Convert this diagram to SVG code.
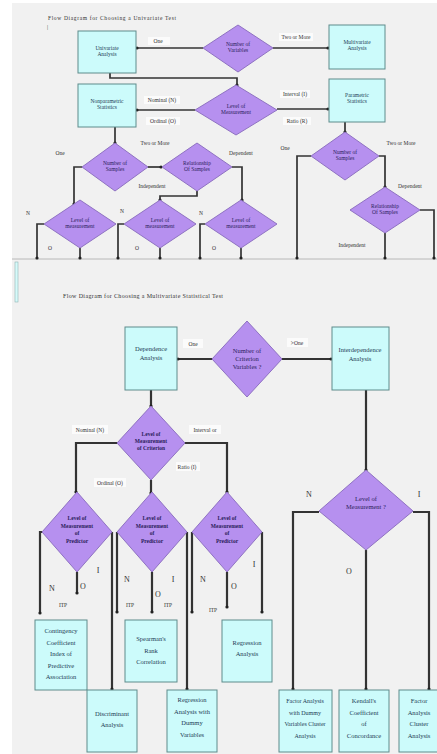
<svg xmlns="http://www.w3.org/2000/svg" width="437" height="754" viewBox="0 0 437 754">
<defs>
<style>
.box{fill:#ccfbfb;stroke:#5f8c8c;stroke-width:1}
.dia{fill:#b690ef;stroke:#8f72c2;stroke-width:1}
.ln{stroke:#333;stroke-width:1.7;fill:none;marker-end:url(#dot)}
.ln2{stroke:#333;stroke-width:2.2;fill:none;marker-end:url(#dot)}
.bt{font-family:"Liberation Serif",serif;font-size:5.5px;fill:#1d3b55;text-anchor:middle}
.bt2{font-family:"Liberation Serif",serif;font-size:6.5px;fill:#1d3b55;text-anchor:middle}
.dt{font-family:"Liberation Serif",serif;font-size:5.5px;fill:#2b1d5c;text-anchor:middle}
.dt2{font-family:"Liberation Serif",serif;font-size:5.5px;fill:#2b1d5c;text-anchor:middle;font-weight:bold}
.lb{font-family:"Liberation Serif",serif;font-size:5.5px;fill:#333;text-anchor:middle}
.lb2{font-family:"Liberation Serif",serif;font-size:8px;fill:#333;text-anchor:middle}
.lbg{fill:#fbfbfb}
</style>
<marker id="dot" viewBox="0 0 4 4" refX="2" refY="2" markerWidth="4" markerHeight="4" markerUnits="userSpaceOnUse"><circle cx="2" cy="2" r="1.6" fill="#222"/></marker>
</defs>
<rect width="437" height="754" fill="#ffffff"/>
<rect x="12" y="3" width="425" height="751" fill="#f1f1f1"/>
<line x1="12" y1="259" x2="437" y2="259" stroke="#b8b8b8" stroke-width="1"/>
<rect x="15" y="262" width="3" height="40" fill="#d6fafa" stroke="#8fb4b4" stroke-width="0.6"/>

<text x="48" y="20" font-family="Liberation Serif,serif" font-size="5.5" fill="#333" textLength="128">Flow Diagram for Choosing a Univariate Test</text>
<text x="47" y="29" font-family="Liberation Serif,serif" font-size="5.5" fill="#333">|</text>
<text x="63" y="298" font-family="Liberation Serif,serif" font-size="6" fill="#333" textLength="160">Flow Diagram for Choosing a Multivariate Statistical Test</text>

<g id="connectors">
<path class="ln" d="M203,48 H137"/>
<path class="ln" d="M273,48 H328"/>
<path class="ln" d="M110,73 V78 H237 V85"/>
<path class="ln" d="M195,110 H137"/>
<path class="ln" d="M277,109 H328"/>
<path class="ln" d="M115,127 V143"/>
<path class="ln" d="M148,167 H161"/>
<path class="ln" d="M82,167 H74 V204"/>
<path class="ln" d="M232,167 H242 V200"/>
<path class="ln" d="M197,191 V196 H160 V200"/>
<path class="ln" d="M44,224 H37 V258"/>
<path class="ln" d="M80,248 V258"/>
<path class="ln" d="M124,224 H118 V258"/>
<path class="ln" d="M160,248 V258"/>
<path class="ln" d="M205,224 H200 V258"/>
<path class="ln" d="M241,248 V258"/>
<path class="ln" d="M345,122 V132"/>
<path class="ln" d="M311,156 H297 V258"/>
<path class="ln" d="M379,156 H385 V187"/>
<path class="ln" d="M420,210 H434 V258"/>
<path class="ln" d="M385,233 V258"/>

<path class="ln2" d="M212,359 H178"/>
<path class="ln2" d="M282,359 H331"/>
<path class="ln2" d="M151,390 V406"/>
<path class="ln2" d="M117,443 H76 V492"/>
<path class="ln2" d="M185,443 H227 V492"/>
<path class="ln2" d="M151,480 V493"/>
<path class="ln2" d="M42,532 H40 V613"/>
<path class="ln2" d="M77,572 V593"/>
<path class="ln2" d="M112,532 V689"/>
<path class="ln2" d="M117,532 V612"/>
<path class="ln2" d="M152,572 V612"/>
<path class="ln2" d="M187,532 V689"/>
<path class="ln2" d="M192,532 V612"/>
<path class="ln2" d="M227,572 V607"/>
<path class="ln2" d="M262,532 V612"/>
<path class="ln2" d="M366,390 V470"/>
<path class="ln2" d="M319,512 H293 V689"/>
<path class="ln2" d="M413,512 H429 V689"/>
<path class="ln2" d="M366,550 V689"/>
</g>

<g id="labels">
<rect class="lbg" x="148" y="37" width="22" height="8"/><text class="lb" x="158" y="43">One</text>
<rect class="lbg" x="279" y="33" width="34" height="8"/><text class="lb" x="296" y="39">Two or More</text>
<rect class="lbg" x="144" y="96" width="36" height="8"/><text class="lb" x="162" y="102">Nominal (N)</text>
<rect class="lbg" x="146" y="117" width="34" height="8"/><text class="lb" x="163" y="123">Ordinal (O)</text>
<rect class="lbg" x="280" y="90" width="30" height="8"/><text class="lb" x="295" y="96">Interval (I)</text>
<rect class="lbg" x="283" y="117" width="28" height="8"/><text class="lb" x="297" y="123">Ratio (R)</text>
<text class="lb" x="60" y="155">One</text>
<text class="lb" x="155" y="145">Two or More</text>
<text class="lb" x="241" y="155">Dependent</text>
<text class="lb" x="152" y="188">Independent</text>
<text class="lb" x="285" y="150">One</text>
<text class="lb" x="401" y="145">Two or More</text>
<text class="lb" x="410" y="188">Dependent</text>
<text class="lb" x="352" y="247">Independent</text>
<text class="lb" x="28" y="215">N</text>
<text class="lb" x="122" y="213">N</text>
<text class="lb" x="201" y="215">N</text>
<text class="lb" x="50" y="250">O</text>
<text class="lb" x="137" y="250">O</text>
<text class="lb" x="214" y="250">O</text>

<rect class="lbg" x="183" y="339" width="20" height="9"/><text class="lb" x="193" y="346">One</text>
<rect class="lbg" x="287" y="338" width="21" height="9"/><text class="lb" x="297" y="345">&gt;One</text>
<rect class="lbg" x="72" y="425" width="36" height="9"/><text class="lb" x="90" y="432">Nominal (N)</text>
<rect class="lbg" x="189" y="425" width="32" height="9"/><text class="lb" x="205" y="432">Interval or</text>
<rect class="lbg" x="176" y="462" width="24" height="9"/><text class="lb" x="187" y="469">Ratio (I)</text>
<rect class="lbg" x="94" y="478" width="32" height="9"/><text class="lb" x="110" y="485">Ordinal (O)</text>
<text class="lb2" x="52" y="591">N</text>
<text class="lb2" x="83" y="589">O</text>
<text class="lb2" x="98" y="573">I</text>
<text class="lb2" x="127" y="582">N</text>
<text class="lb2" x="173" y="582">I</text>
<text class="lb2" x="158" y="597">O</text>
<text class="lb2" x="203" y="582">N</text>
<text class="lb2" x="254" y="567">I</text>
<text class="lb2" x="234" y="589">O</text>
<text class="lb2" x="309" y="497">N</text>
<text class="lb2" x="419" y="497">I</text>
<text class="lb2" x="349" y="574">O</text>
<text class="lb" x="63" y="607">ITP</text>
<text class="lb" x="130" y="607">ITP</text>
<text class="lb" x="168" y="607">ITP</text>
<text class="lb" x="213" y="612">ITP</text>
</g>

<g id="n-univariate"><rect class="box" x="78" y="31" width="58" height="42"/><text class="bt" x="107" y="50"><tspan x="107">Univariate</tspan><tspan x="107" dy="6">Analysis</tspan></text></g>
<g id="n-numvars"><polygon class="dia" points="203,48 238,25 273,48 238,72"/><text class="dt" x="238" y="46"><tspan x="238">Number of</tspan><tspan x="238" dy="6">Variables</tspan></text></g>
<g id="n-multivariate"><rect class="box" x="329" y="25" width="56" height="44"/><text class="bt" x="357" y="44"><tspan x="357">Multivariate</tspan><tspan x="357" dy="6">Analysis</tspan></text></g>
<g id="n-levelmeas"><polygon class="dia" points="195,110 236,85 277,110 236,135"/><text class="dt" x="236" y="108"><tspan x="236">Level of</tspan><tspan x="236" dy="6">Measurement</tspan></text></g>
<g id="n-nonparam"><rect class="box" x="78" y="84" width="58" height="43"/><text class="bt" x="107" y="103"><tspan x="107">Nonparametric</tspan><tspan x="107" dy="6">Statistics</tspan></text></g>
<g id="n-param"><rect class="box" x="329" y="79" width="56" height="43"/><text class="bt" x="357" y="97"><tspan x="357">Parametric</tspan><tspan x="357" dy="6">Statistics</tspan></text></g>
<g id="n-numsamp1"><polygon class="dia" points="82,167 115,143 148,167 115,191"/><text class="dt" x="115" y="165"><tspan x="115">Number of</tspan><tspan x="115" dy="6">Samples</tspan></text></g>
<g id="n-relsamp1"><polygon class="dia" points="162,167 197,143 232,167 197,191"/><text class="dt" x="197" y="165"><tspan x="197">Relationship</tspan><tspan x="197" dy="6">Of Samples</tspan></text></g>
<g id="n-lm1"><polygon class="dia" points="44,224 80,200 116,224 80,248"/><text class="dt" x="80" y="222"><tspan x="80">Level of</tspan><tspan x="80" dy="6">measurement</tspan></text></g>
<g id="n-lm2"><polygon class="dia" points="124,224 160,200 196,224 160,248"/><text class="dt" x="160" y="222"><tspan x="160">Level of</tspan><tspan x="160" dy="6">measurement</tspan></text></g>
<g id="n-lm3"><polygon class="dia" points="205,224 241,200 277,224 241,248"/><text class="dt" x="241" y="222"><tspan x="241">Level of</tspan><tspan x="241" dy="6">measurement</tspan></text></g>
<g id="n-numsamp2"><polygon class="dia" points="311,156 345,132 379,156 345,180"/><text class="dt" x="345" y="154"><tspan x="345">Number of</tspan><tspan x="345" dy="6">Samples</tspan></text></g>
<g id="n-relsamp2"><polygon class="dia" points="350,210 385,187 420,210 385,233"/><text class="dt" x="385" y="208"><tspan x="385">Relationship</tspan><tspan x="385" dy="6">Of Samples</tspan></text></g>

<g id="n-dependence"><rect class="box" x="125" y="327" width="52" height="63"/><text class="bt2" x="151" y="351"><tspan x="151">Dependence</tspan><tspan x="151" dy="9">Analysis</tspan></text></g>
<g id="n-numcrit"><polygon class="dia" points="212,359 247,321 282,359 247,397"/><text class="bt2" x="247" y="353" style="fill:#2b1d5c"><tspan x="247">Number of</tspan><tspan x="247" dy="8">Criterion</tspan><tspan x="247" dy="8">Variables ?</tspan></text></g>
<g id="n-interdependence"><rect class="box" x="332" y="327" width="57" height="63"/><text class="bt2" x="360" y="352"><tspan x="360">Interdependence</tspan><tspan x="360" dy="9">Analysis</tspan></text></g>
<g id="n-lmcrit"><polygon class="dia" points="117,443 151,406 185,443 151,480"/><text class="dt2" x="151" y="436"><tspan x="151">Level of</tspan><tspan x="151" dy="7">Measurement</tspan><tspan x="151" dy="7">of Criterion</tspan></text></g>
<g id="n-lmpred1"><polygon class="dia" points="42,532 77,492 112,532 77,572"/><text class="dt2" x="77" y="520"><tspan x="77">Level of</tspan><tspan x="77" dy="7.5">Measurement</tspan><tspan x="77" dy="7.5">of</tspan><tspan x="77" dy="7.5">Predictor</tspan></text></g>
<g id="n-lmpred2"><polygon class="dia" points="117,532 152,492 187,532 152,572"/><text class="dt2" x="152" y="520"><tspan x="152">Level of</tspan><tspan x="152" dy="7.5">Measurement</tspan><tspan x="152" dy="7.5">of</tspan><tspan x="152" dy="7.5">Predictor</tspan></text></g>
<g id="n-lmpred3"><polygon class="dia" points="192,532 227,492 262,532 227,572"/><text class="dt2" x="227" y="520"><tspan x="227">Level of</tspan><tspan x="227" dy="7.5">Measurement</tspan><tspan x="227" dy="7.5">of</tspan><tspan x="227" dy="7.5">Predictor</tspan></text></g>
<g id="n-lminter"><polygon class="dia" points="319,511 366,470 413,511 366,550"/><text class="bt2" x="366" y="501" style="fill:#2b1d5c"><tspan x="366">Level of</tspan><tspan x="366" dy="8">Measurement ?</tspan></text></g>
<g id="n-contingency"><rect class="box" x="35" y="620" width="52" height="70"/><text class="bt2" x="61" y="633"><tspan x="61">Contingency</tspan><tspan x="61" dy="11.5">Coefficient</tspan><tspan x="61" dy="11.5">Index of</tspan><tspan x="61" dy="11.5">Predictive</tspan><tspan x="61" dy="11.5">Association</tspan></text></g>
<g id="n-spearman"><rect class="box" x="125" y="620" width="52" height="62"/><text class="bt2" x="151" y="641"><tspan x="151">Spearman's</tspan><tspan x="151" dy="11.5">Rank</tspan><tspan x="151" dy="11.5">Correlation</tspan></text></g>
<g id="n-regression"><rect class="box" x="222" y="620" width="50" height="62"/><text class="bt2" x="247" y="645"><tspan x="247">Regression</tspan><tspan x="247" dy="11">Analysis</tspan></text></g>
<g id="n-discriminant"><rect class="box" x="87" y="690" width="50" height="62"/><text class="bt2" x="112" y="716"><tspan x="112">Discriminant</tspan><tspan x="112" dy="11">Analysis</tspan></text></g>
<g id="n-regdummy"><rect class="box" x="167" y="690" width="50" height="62"/><text class="bt2" x="192" y="702"><tspan x="192">Regression</tspan><tspan x="192" dy="11.5">Analysis with</tspan><tspan x="192" dy="11.5">Dummy</tspan><tspan x="192" dy="11.5">Variables</tspan></text></g>
<g id="n-factordummy"><rect class="box" x="279" y="690" width="53" height="62"/><text class="bt2" x="305" y="703" style="font-size:6px"><tspan x="305">Factor Analysis</tspan><tspan x="305" dy="11.5">with Dummy</tspan><tspan x="305" dy="11.5">Variables Cluster</tspan><tspan x="305" dy="11.5">Analysis</tspan></text></g>
<g id="n-kendall"><rect class="box" x="339" y="690" width="50" height="62"/><text class="bt2" x="364" y="703"><tspan x="364">Kendall's</tspan><tspan x="364" dy="11.5">Coefficient</tspan><tspan x="364" dy="11.5">of</tspan><tspan x="364" dy="11.5">Concordance</tspan></text></g>
<g id="n-factorcluster"><rect class="box" x="399" y="690" width="40" height="62"/><text class="bt2" x="419" y="703"><tspan x="419">Factor</tspan><tspan x="419" dy="11.5">Analysis</tspan><tspan x="419" dy="11.5">Cluster</tspan><tspan x="419" dy="11.5">Analysis</tspan></text></g>
</svg>
